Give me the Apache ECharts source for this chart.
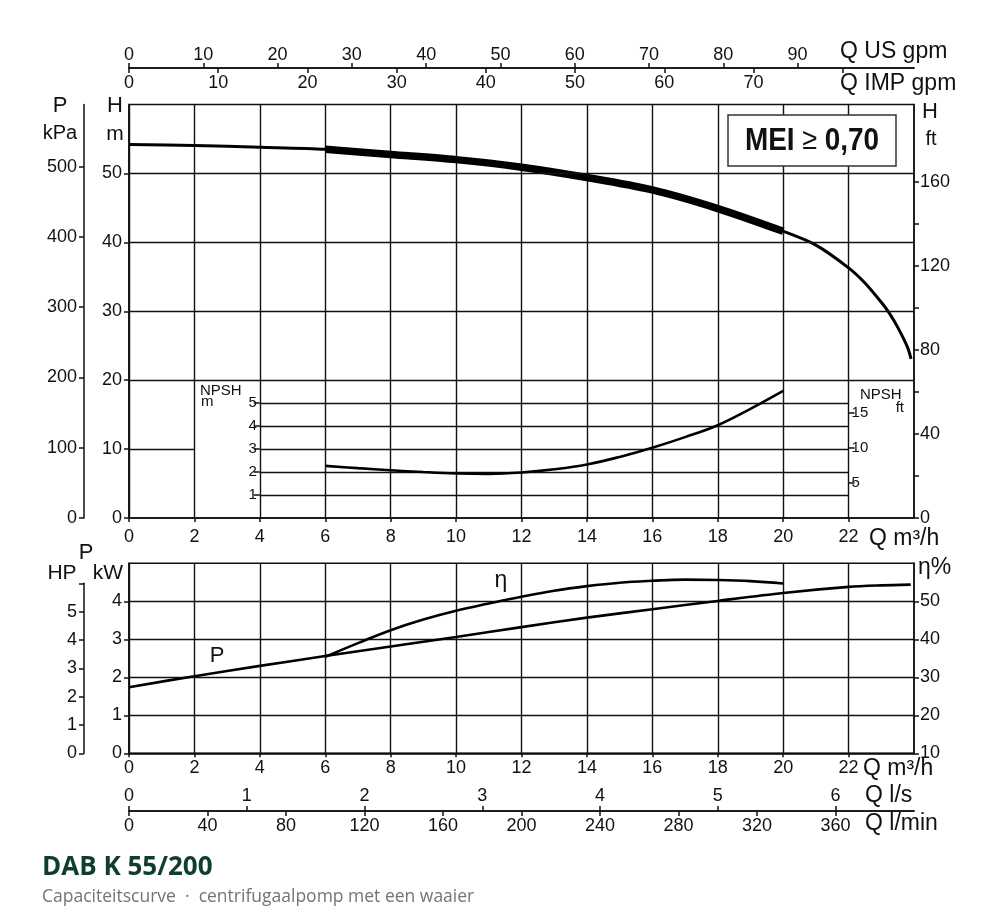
<!DOCTYPE html>
<html>
<head>
<meta charset="utf-8">
<title>DAB K 55/200</title>
<script src="https://cdn.jsdelivr.net/npm/echarts@6.0.0/dist/echarts.min.js"></script>
<style>
html, body { margin: 0; padding: 0; background: #fff; }
#main { width: 1000px; height: 924px; }
</style>
</head>
<body>
<div id="main"></div>
<script>
// Q-H curve (Q m3/h, H m)
var hQ = [0, 2, 4, 6, 8, 10, 12, 14, 16, 18, 20, 21, 22, 22.5, 23, 23.25, 23.5, 23.8, 23.91];
var hHead = [54.2, 54.05, 53.8, 53.5, 52.75, 52.0, 50.9, 49.4, 47.6, 44.9, 41.6, 39.6, 36.3, 34.1, 31.3, 29.7, 27.7, 24.8, 23.1];
// werkgebied (dikke lijn)
var opRange = [6, 20];

// NPSH (m)
var npshQ = [6, 7, 8, 9, 10, 11, 12, 13, 14, 15, 16, 17, 18, 19, 20];
var npshM = [2.27, 2.17, 2.08, 2.0, 1.94, 1.92, 1.98, 2.12, 2.33, 2.66, 3.06, 3.52, 4.04, 4.75, 5.53];

// opgenomen vermogen P (kW)
var pQ = [0, 2, 4, 6, 8, 10, 12, 14, 16, 18, 20, 22, 23, 23.9];
var pKw = [1.74, 2.03, 2.30, 2.56, 2.81, 3.06, 3.32, 3.57, 3.79, 4.01, 4.22, 4.38, 4.42, 4.44];

// rendement (%)
var etaQ = [6, 7, 8, 9, 10, 11, 12, 13, 14, 15, 16, 17, 18, 19, 20];
var etaPct = [35.4, 39.0, 42.4, 45.2, 47.5, 49.4, 51.2, 52.8, 54.0, 54.9, 55.4, 55.7, 55.6, 55.3, 54.7];

// schaalwaarden
var qTicks = [0, 2, 4, 6, 8, 10, 12, 14, 16, 18, 20, 22];
var hTicks = [0, 10, 20, 30, 40, 50];
var hGridLines = [20, 30, 40, 50];
var kpaTicks = [0, 100, 200, 300, 400, 500];
var ftTicks = [0, 20, 40, 60, 80, 100, 120, 140, 160];
var ftLabels = [0, 40, 80, 120, 160];
var usGpmTicks = [0, 10, 20, 30, 40, 50, 60, 70, 80, 90];
var impGpmTicks = [0, 10, 20, 30, 40, 50, 60, 70, 80];
var impGpmLabels = [0, 10, 20, 30, 40, 50, 60, 70];
var npshMTicks = [1, 2, 3, 4, 5];
var npshFtTicks = [5, 10, 15];
var kwTicks = [0, 1, 2, 3, 4];
var etaTicks = [10, 20, 30, 40, 50];
var hpTicks = [0, 1, 2, 3, 4, 5, 6];
var hpLabels = [0, 1, 2, 3, 4, 5];
var lsTicks = [0, 1, 2, 3, 4, 5, 6];
var lminTicks = [0, 40, 80, 120, 160, 200, 240, 280, 320, 360];

// omrekenfactoren
var Q_MAX = 24, H_MAX = 60, KW_MAX = 5;
var US_GPM = 4.40287, IMP_GPM = 3.66615, KPA_PER_M = 9.80665, FT = 0.3048, HP = 0.7457;

var LINE = '#111';
var FONT = '"Liberation Sans", Arial, Helvetica, sans-serif';

function zip(xs, ys) {
	var out = [];
	for(var i = 0; i < xs.length; i++) {
		out.push([xs[i], ys[i]]);
	}
	return out;
}

function axis(o) {
	return {
		type: 'value',
		show: o.show !== false,
		gridIndex: o.grid,
		position: o.pos,
		offset: o.offset || 0,
		min: o.min,
		max: o.max,
		interval: o.interval,
		axisLine: { show: o.line !== false, onZero: false, lineStyle: { color: LINE, width: 1.5 } },
		axisTick: {
			show: !!o.ticks,
			customValues: o.ticks,
			inside: !!o.inside,
			length: o.tickLen || 5,
			lineStyle: { color: LINE, width: 1.5 }
		},
		axisLabel: {
			show: !!o.labels,
			customValues: o.labels,
			inside: !!o.inside,
			margin: o.margin || 6,
			color: '#111',
			fontSize: o.fontSize || 18,
			fontFamily: FONT
		},
		splitLine: { show: !!o.split, lineStyle: { color: LINE, width: 1.4 } }
	};
}

function txt(text, x, y, size, align, extra) {
	var st = {
		text: text,
		fill: '#111',
		font: size + 'px ' + FONT,
		align: align || 'center',
		textAlign: align || 'center',
		verticalAlign: 'middle',
		textVerticalAlign: 'middle'
	};
	for(var k in extra || {}) st[k] = extra[k];
	return { type: 'text', x: x, y: y, z: 100, silent: true, style: st };
}

var gTop = 104.5, gBottom = 518, gLeft = 129, gWidth = 785;
var gH = gBottom - gTop;
var bTop = 563.3, bBottom = 753.3;
var pxPerKw = (bBottom - bTop) / KW_MAX;

var headData = zip(hQ, hHead);
var headOp = headData.filter(function(d) { return d[0] >= opRange[0] && d[0] <= opRange[1]; });

var myChart = echarts.init(document.getElementById('main'));
var option = {
	animation: false,
	backgroundColor: '#fff',
	textStyle: { fontFamily: FONT, color: '#111' },
	grid: [{
		left: gLeft, top: gTop, width: gWidth, height: gH,
		show: true, borderColor: LINE, borderWidth: 1.5, backgroundColor: 'transparent',
		containLabel: false, outerBoundsMode: 'none'
	}, {
		left: gLeft, top: bTop, width: gWidth, height: bBottom - bTop,
		show: true, borderColor: LINE, borderWidth: 1.5, backgroundColor: 'transparent',
		containLabel: false, outerBoundsMode: 'none'
	}, {
		// NPSH vak: Q 4..22, H 0..20
		left: gLeft + 4 * gWidth / Q_MAX, width: 18 * gWidth / Q_MAX,
		top: gBottom - 20 * gH / H_MAX, height: 20 * gH / H_MAX,
		containLabel: false, outerBoundsMode: 'none'
	}, {
		// HP schaal
		left: 84, width: 830, top: bBottom - 6 * pxPerKw * HP, height: 6 * pxPerKw * HP,
		containLabel: false, outerBoundsMode: 'none'
	}],
	xAxis: [
		axis({ grid: 0, pos: 'bottom', min: 0, max: Q_MAX, interval: 2, ticks: qTicks, labels: qTicks, margin: 10, tickLen: 4, split: true }),
		axis({ grid: 0, pos: 'top', offset: 36.5, min: 0, max: Q_MAX * US_GPM, interval: 10, ticks: usGpmTicks, labels: usGpmTicks, margin: 4 }),
		axis({ grid: 0, pos: 'top', offset: 36.5, min: 0, max: Q_MAX * IMP_GPM, interval: 10, ticks: impGpmTicks, labels: impGpmLabels, inside: true, margin: 6 }),
		axis({ grid: 2, show: false, min: 4, max: 22 }),
		axis({ grid: 1, pos: 'bottom', min: 0, max: Q_MAX, interval: 2, ticks: qTicks, labels: qTicks, margin: 6, tickLen: 4, split: true }),
		axis({ grid: 1, pos: 'bottom', offset: 57.7, min: 0, max: Q_MAX / 3.6, interval: 1, ticks: lsTicks, labels: lsTicks, inside: true, margin: 6 }),
		axis({ grid: 1, pos: 'bottom', offset: 57.7, min: 0, max: Q_MAX * 1000 / 60, interval: 40, ticks: lminTicks, labels: lminTicks, margin: 6 }),
		axis({ grid: 3, show: false, min: 0, max: 1 })
	],
	yAxis: [
		axis({ grid: 0, pos: 'left', min: 0, max: H_MAX, interval: 10, ticks: hTicks, labels: hTicks, margin: 7 }),
		axis({ grid: 0, pos: 'left', offset: 45, min: 0, max: H_MAX * KPA_PER_M, interval: 100, ticks: kpaTicks, labels: kpaTicks, margin: 7 }),
		axis({ grid: 0, pos: 'right', min: 0, max: H_MAX / FT, interval: 20, ticks: ftTicks, labels: ftLabels, margin: 6 }),
		axis({ grid: 2, pos: 'left', min: 0, max: 6, interval: 1, ticks: npshMTicks, labels: npshMTicks, line: false, split: true, fontSize: 15, tickLen: 6, margin: 3 }),
		axis({ grid: 2, pos: 'right', min: 0, max: 6 / FT, interval: 5, ticks: npshFtTicks, labels: npshFtTicks, line: false, fontSize: 15, tickLen: 6, margin: 3 }),
		axis({ grid: 1, pos: 'left', min: 0, max: KW_MAX, interval: 1, ticks: kwTicks, labels: kwTicks, split: true, margin: 7 }),
		axis({ grid: 1, pos: 'right', min: 10, max: 60, interval: 10, ticks: etaTicks, labels: etaTicks, margin: 6 }),
		axis({ grid: 3, pos: 'left', min: 0, max: 6, interval: 1, ticks: hpTicks, labels: hpLabels, margin: 7 })
	],
	series: [{
		name: 'H',
		type: 'line',
		xAxisIndex: 0, yAxisIndex: 0,
		data: headData,
		smooth: 0.3,
		showSymbol: false,
		lineStyle: { color: '#000', width: 3 },
		markLine: {
			silent: true,
			symbol: ['none', 'none'],
			label: { show: false },
			lineStyle: { color: LINE, width: 1.4, type: 'solid' },
			data: hGridLines.map(function(v) { return { yAxis: v }; }).concat([
				[{ coord: [0, 10] }, { coord: [2, 10] }]
			])
		}
	}, {
		name: 'H werkgebied',
		type: 'line',
		xAxisIndex: 0, yAxisIndex: 0,
		data: headOp,
		smooth: 0.3,
		showSymbol: false,
		lineStyle: { color: '#000', width: 7.5 }
	}, {
		name: 'NPSH',
		type: 'line',
		xAxisIndex: 3, yAxisIndex: 3,
		data: zip(npshQ, npshM),
		smooth: 0.4,
		showSymbol: false,
		lineStyle: { color: '#000', width: 2.6 }
	}, {
		name: 'P',
		type: 'line',
		xAxisIndex: 4, yAxisIndex: 5,
		data: zip(pQ, pKw),
		smooth: 0.3,
		showSymbol: false,
		lineStyle: { color: '#000', width: 2.6 }
	}, {
		name: 'eta',
		type: 'line',
		xAxisIndex: 4, yAxisIndex: 6,
		data: zip(etaQ, etaPct),
		smooth: 0.4,
		showSymbol: false,
		lineStyle: { color: '#000', width: 2.6 }
	}],
	graphic: [
		txt('P', 60, 105.5, 22),
		txt('kPa', 60, 133, 20),
		txt('H', 115, 105.5, 22),
		txt('m', 115, 134, 21),
		txt('H', 930, 111.5, 22),
		txt('ft', 931, 139, 20),
		txt('Q US gpm', 840, 52, 23, 'left'),
		txt('Q IMP gpm', 840, 83.7, 23, 'left'),
		txt('Q m³/h', 869, 539, 23, 'left'),
		txt('NPSH', 200, 391, 15, 'left'),
		txt('m', 201, 401.5, 15, 'left'),
		txt('NPSH', 860, 394.5, 15, 'left'),
		txt('ft', 904, 407.5, 15, 'right'),
		txt('P', 86, 552.5, 22),
		txt('HP', 62, 573.5, 21),
		txt('kW', 108, 573.5, 21),
		txt('η%', 918, 568, 23, 'left'),
		txt('η', 501, 581, 23),
		txt('P', 217, 655.5, 22),
		txt('Q m³/h', 863, 769, 23, 'left'),
		txt('Q l/s', 865, 796, 23, 'left'),
		txt('Q l/min', 865, 824, 23, 'left'),
		{
			type: 'rect', z: 90, silent: true,
			shape: { x: 728, y: 115, width: 168, height: 51 },
			style: { fill: '#fff', stroke: '#333', lineWidth: 1.5 }
		},
		{
			type: 'text', x: 812, y: 141, z: 100, silent: true, scaleX: 0.9,
			style: {
				text: '{b|MEI} {s|≥} {b|0,70}',
				font: 'bold 31px ' + FONT,
				fill: '#111',
				align: 'center', textAlign: 'center',
				verticalAlign: 'middle', textVerticalAlign: 'middle',
				rich: {
					b: { fontSize: 31, fontWeight: 'bold', fontFamily: FONT, fill: '#111' },
					s: { fontSize: 30, fontWeight: 'normal', fontFamily: FONT, fill: '#111' }
				}
			}
		},
		txt('DAB K 55/200', 42, 868, 26, 'left', { font: 'bold 26px "Open Sans", "Noto Sans", sans-serif', fill: '#0f3d2f' }),
		txt('Capaciteitscurve  ·  centrifugaalpomp met een waaier', 42, 897.5, 17.5, 'left', { font: '17.5px "Open Sans", "Noto Sans", sans-serif', fill: '#6e7772' })
	]
};
myChart.setOption(option);
</script>
</body>
</html>
